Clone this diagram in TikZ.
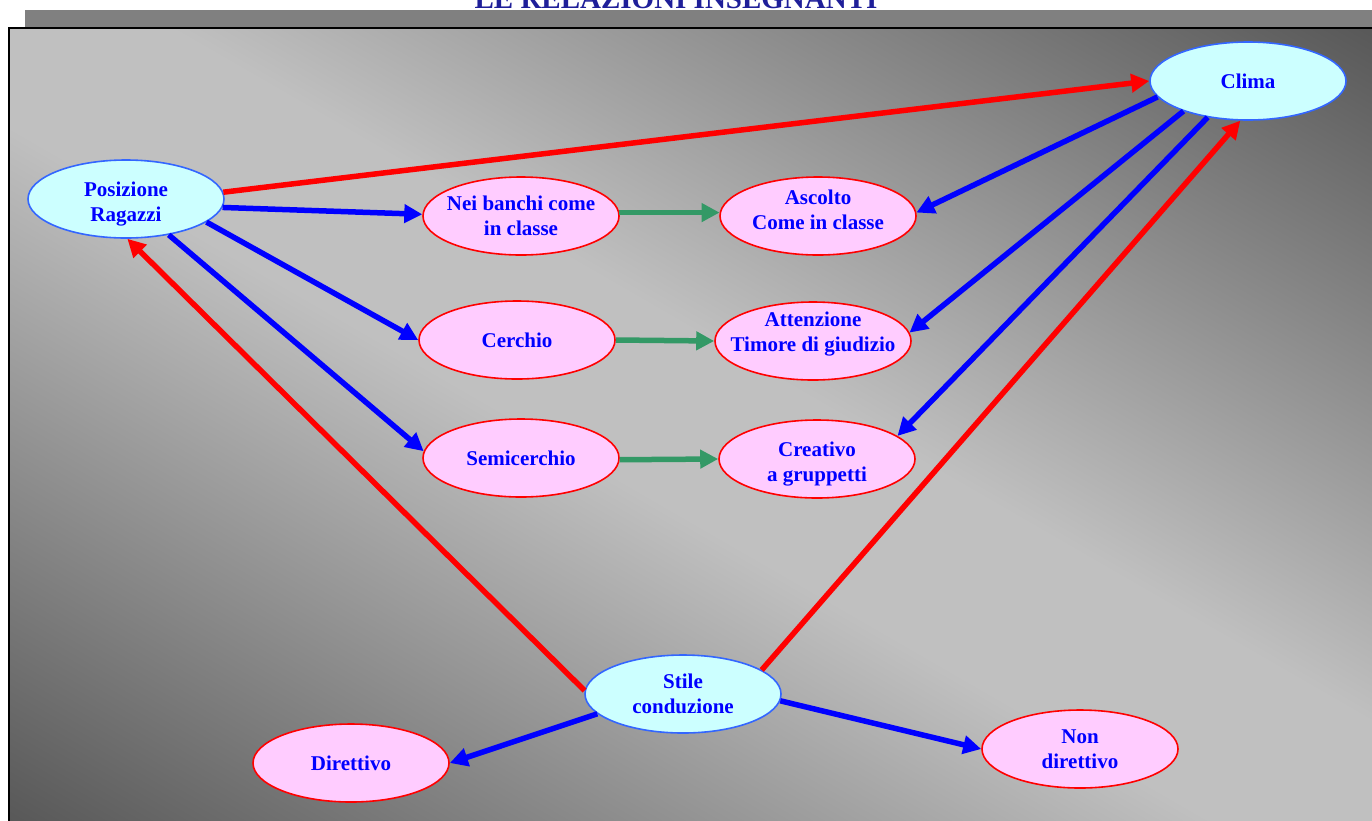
\documentclass[tikz,border=0pt]{standalone}
\usepackage{fontspec}
\setmainfont{Liberation Serif}
\usetikzlibrary{arrows.meta,shapes.geometric}
\definecolor{cyanfill}{HTML}{CCFFFF}
\definecolor{pinkfill}{HTML}{FFCCFF}
\definecolor{cyanborder}{HTML}{3366FF}
\definecolor{arrgreen}{HTML}{339966}
\definecolor{titleblue}{HTML}{1F1F99}
\definecolor{bgdark}{HTML}{585858}
\definecolor{bglight}{HTML}{C0C0C0}
\definecolor{bandgray}{HTML}{808080}
\pgfdeclareverticalshading{slidebg}{100bp}{color(0bp)=(bgdark); color(25bp)=(bgdark); color(47bp)=(bglight); color(53bp)=(bglight); color(75bp)=(bgdark); color(100bp)=(bgdark)}
\newcommand{\shiftedtext}[2]{\raisebox{#1}[\height][\depth]{\begin{tabular}{@{}c@{}}#2\end{tabular}}}
\begin{document}
\begin{tikzpicture}[x=1pt,y=-1pt,
  bubble/.style={ellipse, minimum width=196pt, minimum height=78pt,
    inner xsep=-30pt, inner ysep=-15pt,
    line width=1.6pt, align=center, text=blue, font=\bfseries\fontsize{21}{25}\selectfont},
  cyanbubble/.style={bubble, draw=cyanborder, fill=cyanfill},
  pinkbubble/.style={bubble, draw=red, fill=pinkfill},
  conn/.style={line width=5.5pt, -{Triangle[length=18pt,width=18pt]}},
  redarr/.style={conn, color=red},
  bluearr/.style={conn, color=blue},
  greenarr/.style={conn, color=arrgreen}]
\useasboundingbox (0,0) rectangle (1372,820);
\clip (0,0) rectangle (1372,820);
\fill[white] (0,0) rectangle (1372,820);
% top band and clipped title
\fill[bandgray] (25,10) rectangle (1372,28);
\begin{scope}
  \clip (0,0) rectangle (1372,9.5);
  \node[anchor=base, text=titleblue, font=\bfseries\fontsize{29}{32}\selectfont, inner sep=0pt] (title) at (676,8) {LE RELAZIONI INSEGNANTI};
\end{scope}
% slide background with diagonal gradient
\begin{scope}
  \clip (10,29) rectangle (1372,820);
  \begin{scope}[transform canvas={shift={(691,424.5)}, rotate=-30}]
    \shade[shading=slidebg] (-900,-684) rectangle (900,684);
  \end{scope}
\end{scope}
\draw[line width=2pt, black] (9,28) rectangle (1400,850);
% nodes
\node[cyanbubble] (pos) at (126,199) {\shiftedtext{-5pt}{Posizione\\Ragazzi}};
\node[cyanbubble] (clima) at (1248,81) {Clima};
\node[pinkbubble] (banchi) at (521,216) {Nei banchi come\\in classe};
\node[pinkbubble] (ascolto) at (818,216) {\shiftedtext{4pt}{Ascolto\\Come in classe}};
\node[pinkbubble] (cerchio) at (517,340) {Cerchio};
\node[pinkbubble] (attenz) at (813,341) {\shiftedtext{7pt}{Attenzione\\Timore di giudizio}};
\node[pinkbubble] (semi) at (521,458) {Semicerchio};
\node[pinkbubble] (creativo) at (817,459) {\shiftedtext{-5pt}{Creativo\\a gruppetti}};
\node[cyanbubble] (stile) at (683,694) {Stile\\conduzione};
\node[pinkbubble] (dirett) at (351,763) {Direttivo};
\node[pinkbubble] (nondir) at (1080,749) {Non\\direttivo};
% red connectors
\draw[redarr] (pos.4) -- (clima.180);
\draw[redarr] (stile.178) -- (pos.-88);
\draw[redarr] (stile.17) -- (clima.-101);
% blue connectors
\draw[bluearr] (pos.-5) -- (banchi.179);
\draw[bluearr] (pos.-16) -- (cerchio.180);
\draw[bluearr] (pos.-40) -- (semi.176);
\draw[bluearr] (clima.190) -- (ascolto.2);
\draw[bluearr] (clima.205) -- (attenz.5);
\draw[bluearr] (clima.222) -- (creativo.16);
\draw[bluearr] (stile.193) -- (dirett.0);
\draw[bluearr] (stile.-4) -- (nondir.180);
% green connectors
\draw[greenarr] (banchi.2) -- (ascolto.178);
\draw[greenarr] (cerchio.0) -- (attenz.180);
\draw[greenarr] (semi.-1) -- (creativo.180);
\end{tikzpicture}
\end{document}
